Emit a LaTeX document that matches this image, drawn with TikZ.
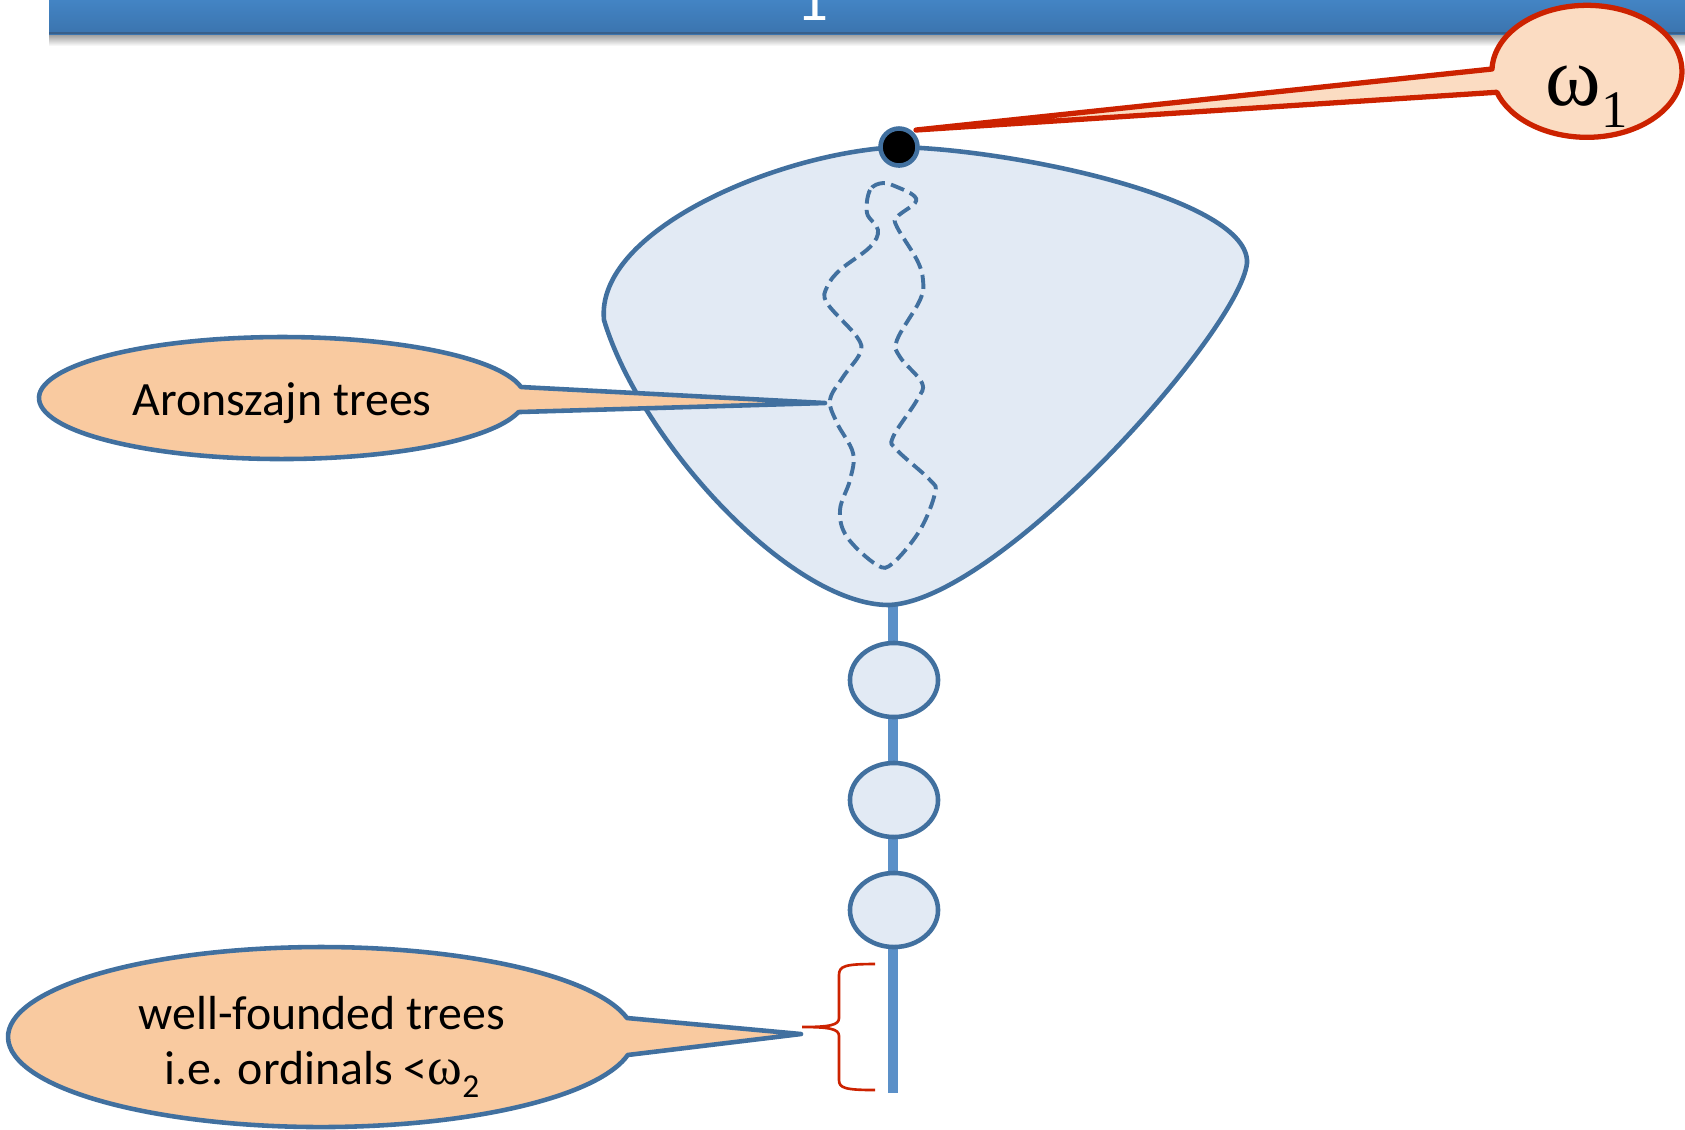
\documentclass[tikz,border=0pt]{standalone}
\usepackage{fontspec}
\setmainfont{Carlito}
\newfontfamily\grk{Liberation Serif}
\usetikzlibrary{shapes.geometric,calc}
\definecolor{edgeblue}{HTML}{41709F}
\definecolor{fillblue}{HTML}{E2EAF4}
\definecolor{stemblue}{HTML}{5B90C8}
\definecolor{peach}{HTML}{F9CAA0}
\definecolor{lightpeach}{HTML}{FBDCC2}
\definecolor{calloutred}{HTML}{CC2200}
\definecolor{bartop}{HTML}{4384C4}
\definecolor{barbot}{HTML}{3B74AE}
\definecolor{baredge}{HTML}{385F8A}
\tikzset{
  outline/.style={draw=edgeblue, line width=1.3pt, line join=round},
  bubble/.style={ellipse, outline, fill=fillblue, minimum width=0.88cm, minimum height=0.74cm, inner sep=0pt},
  loopline/.style={draw=edgeblue, line width=1.1pt, dash pattern=on 4pt off 1.8pt},
  stemline/.style={draw=stemblue, line width=3pt},
  redcallout/.style={draw=calloutred, line width=1.5pt, line join=round, fill=lightpeach},
  bluecallout/.style={outline, fill=peach},
  label/.style={font=\fontsize{13.6}{16}\selectfont, inner sep=0pt},
  bracestyle/.style={draw=calloutred, line width=0.75pt}
}
\begin{document}
\begin{tikzpicture}[x=0.01cm,y=0.01cm]
\useasboundingbox (0,0) rectangle (1685,-1129);
% title bar
\shade[top color=black!40, bottom color=white] (49,-34) rectangle (1685,-46);
\shade[top color=bartop, bottom color=barbot] (49,0) rectangle (1685,-34);
\draw[baredge, line width=0.8pt] (49,-33) -- (1685,-33);
\begin{scope}
\clip (49,0) rectangle (1685,-34);
\node[white, anchor=base, inner sep=0pt, font=\fontsize{18}{18}\selectfont] (title) at (813,-20) {1};
\end{scope}
% stem and small trees
\coordinate (stemtop) at (893,-600);
\coordinate (stembot) at (893,-1093);
\draw[stemline] (stemtop) -- (stembot);
\node[bubble] (e1) at (894,-680) {};
\node[bubble] (e2) at (894,-800) {};
\node[bubble] (e3) at (894,-910) {};
% big blob
\draw[outline, fill=fillblue] (899,-147) .. controls (1020,-150) and (1250,-200) .. (1247,-263)
  .. controls (1240,-330) and (1000,-600) .. (889,-605)
  .. controls (790,-605) and (640,-440) .. (604,-320)
  .. controls (595,-230) and (780,-152) .. (899,-147) -- cycle;
% dashed Aronszajn region
\draw[loopline] plot[smooth cycle, tension=0.6] coordinates {
 (883,-183) (870,-190) (867,-213) (878,-230) (870,-247) (840,-270) (827,-287) (827,-303)
 (857,-337) (860,-353) (843,-377) (830,-400) (837,-423) (853,-453) (850,-480) (840,-510)
 (847,-537) (877,-565) (893,-563) (920,-530) (935,-493) (930,-480) (897,-450) (893,-437)
 (917,-400) (922,-383) (900,-357) (897,-340) (920,-300) (923,-280) (917,-260) (897,-227)
 (897,-217) (915,-203) (913,-195) (897,-187)};
% root dot
\node[circle, draw=edgeblue, line width=1.3pt, fill=black, minimum size=0.37cm, inner sep=0pt] (dot) at (899,-147) {};
% Aronszajn callout
\coordinate (aTip) at (825,-403);
\draw[bluecallout] (aTip) -- (521,-387) arc[start angle=10.4, end angle=346.7, x radius=243, y radius=61] -- cycle;
\node[label, anchor=base] (aText) at (282,-415) {Aronszajn trees};
% well-founded callout
\coordinate (wfTip) at (801,-1034);
\draw[bluecallout] (wfTip) -- (627,-1018) arc[start angle=12.2, end angle=348.5, x radius=313, y radius=90] -- cycle;
\node[label, anchor=base] (wfText1) at (322,-1029) {well-founded trees};
\node[label, anchor=base] (wfText2) at (322,-1084) {i.e. ordinals <{\grk\fontsize{15}{16}\selectfont ω}\raisebox{-3.7pt}{\fontsize{9.5}{10}\selectfont 2}};
% brace
\coordinate (braceTop) at (875,-964);
\coordinate (braceTip) at (802,-1027);
\coordinate (braceBot) at (875,-1090);
\draw[bracestyle] (braceTop) .. controls (845,-964) and (839,-966) .. (839,-975) -- (839,-1018)
  .. controls (839,-1025) and (830,-1027) .. (braceTip)
  .. controls (830,-1027) and (839,-1029) .. (839,-1036) -- (839,-1080)
  .. controls (839,-1088) and (845,-1090) .. (braceBot);
% omega_1 callout
\coordinate (wTip) at (916,-130);
\draw[redcallout] (wTip) -- (1492,-69) arc[start angle=178, end angle=-161.5, x radius=95, y radius=66] -- cycle;
\node[anchor=base west, inner sep=0pt] (wText) at (1545,-105) {\grk\fontsize{24}{24}\selectfont ω\raisebox{-6.5pt}{\fontsize{15}{15}\selectfont 1}};
\end{tikzpicture}
\end{document}
